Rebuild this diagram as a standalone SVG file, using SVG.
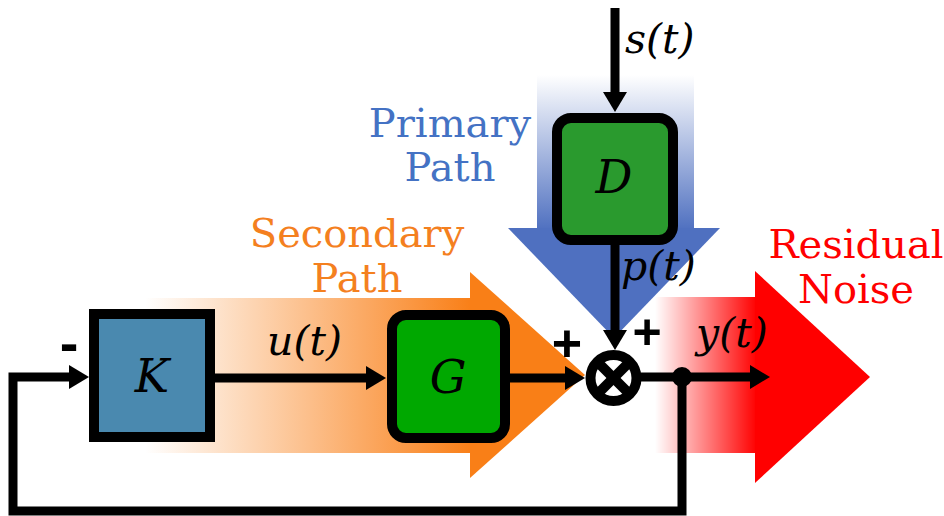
<svg xmlns="http://www.w3.org/2000/svg" width="944" height="516" viewBox="0 0 944 516">
<defs>
<linearGradient id="gOrange" gradientUnits="userSpaceOnUse" x1="145" y1="0" x2="472" y2="0">
<stop offset="0" stop-color="#F97F17" stop-opacity="0"/>
<stop offset="1" stop-color="#F97F17" stop-opacity="1"/>
</linearGradient>
<linearGradient id="gBlue" gradientUnits="userSpaceOnUse" x1="0" y1="75" x2="0" y2="230">
<stop offset="0" stop-color="#4F70C0" stop-opacity="0"/>
<stop offset="1" stop-color="#4F70C0" stop-opacity="1"/>
</linearGradient>
<linearGradient id="gRed" gradientUnits="userSpaceOnUse" x1="655" y1="0" x2="757" y2="0">
<stop offset="0" stop-color="#FF0000" stop-opacity="0"/>
<stop offset="1" stop-color="#FF0000" stop-opacity="1"/>
</linearGradient>
<marker id="ah" viewBox="0 0 10 12" markerWidth="20" markerHeight="24" markerUnits="userSpaceOnUse" refX="1" refY="6" orient="auto">
<path d="M0,0 L10,6 L0,12 z" fill="#000"/>
</marker>
<style>
.blk{stroke:#000;stroke-width:10}
.wire{fill:none;stroke:#000;stroke-width:9}
.math{font-family:"DejaVu Serif","Liberation Serif",serif;font-style:italic;font-size:41px;fill:#000}
.big{font-size:46px}
.lab{font-family:"DejaVu Serif","Liberation Serif",serif;font-size:40px}
.sign{font-family:"Liberation Sans",Arial,sans-serif;font-weight:bold;fill:#000;text-anchor:middle}
</style>
</defs>
<rect width="944" height="516" fill="#fff"/>

<g id="secondary-path-arrow">
<rect x="145" y="298" width="326" height="155" fill="url(#gOrange)"/>
<polygon points="470,272 585,375 470,478" fill="#F97F17"/>
</g>
<g id="primary-path-arrow">
<rect x="537" y="75" width="157" height="154" fill="url(#gBlue)"/>
<polygon points="508,228 720,228 614,338" fill="#4F70C0"/>
</g>
<g id="residual-noise-arrow">
<rect x="655" y="297" width="101" height="156" fill="url(#gRed)"/>
<polygon points="755,271 870,377 755,483" fill="#FF0000"/>
</g>

<g id="connectors">
<line class="wire" x1="615" y1="8" x2="615" y2="94" marker-end="url(#ah)"/>
<line class="wire" x1="615" y1="245" x2="615" y2="332" marker-end="url(#ah)"/>
<line class="wire" x1="215" y1="378" x2="368" y2="378" marker-end="url(#ah)"/>
<line class="wire" x1="510" y1="378" x2="567" y2="378" marker-end="url(#ah)"/>
<line class="wire" x1="641" y1="377" x2="752" y2="377" marker-end="url(#ah)"/>
<path class="wire" d="M682,377 V511 H13 V377 H71" marker-end="url(#ah)"/>
<circle cx="682" cy="377" r="10" fill="#000"/>
</g>

<g id="K">
<rect class="blk" x="94" y="314" width="116" height="123" fill="#4A89AF"/>
<text class="math big" x="152" y="392" text-anchor="middle">K</text>
</g>
<g id="G">
<rect class="blk" x="392" y="315" width="113" height="123" rx="14" fill="#00A800"/>
<text class="math big" x="448" y="393" text-anchor="middle">G</text>
</g>
<g id="D">
<rect class="blk" x="557" y="118" width="116" height="122" rx="14" fill="#2A9A2E"/>
<text class="math big" x="614" y="193" text-anchor="middle">D</text>
</g>
<g id="sum">
<circle cx="613.5" cy="378" r="23" fill="#fff" stroke="#000" stroke-width="10"/>
<line x1="597" y1="361.5" x2="630" y2="394.5" stroke="#000" stroke-width="10"/>
<line x1="630" y1="361.5" x2="597" y2="394.5" stroke="#000" stroke-width="10"/>
</g>

<g id="labels">
<text class="math" x="625" y="53">s(t)</text>
<text class="math" x="267" y="355">u(t)</text>
<text class="math" x="621" y="280">p(t)</text>
<text class="math" x="696" y="347">y(t)</text>
<text class="sign" x="567" y="361" font-size="52">+</text>
<text class="sign" x="647" y="349" font-size="50">+</text>
<text class="sign" x="69" y="362" font-size="56">-</text>
<text class="lab" fill="#4472C4" text-anchor="middle" x="450" y="137">Primary</text>
<text class="lab" fill="#4472C4" text-anchor="middle" x="450" y="181">Path</text>
<text class="lab" fill="#F4801F" text-anchor="middle" x="357" y="247">Secondary</text>
<text class="lab" fill="#F4801F" text-anchor="middle" x="357" y="292">Path</text>
<text class="lab" fill="#FF0000" text-anchor="middle" x="856" y="258" font-size="38">Residual</text>
<text class="lab" fill="#FF0000" text-anchor="middle" x="856" y="303" font-size="38">Noise</text>
</g>
</svg>
